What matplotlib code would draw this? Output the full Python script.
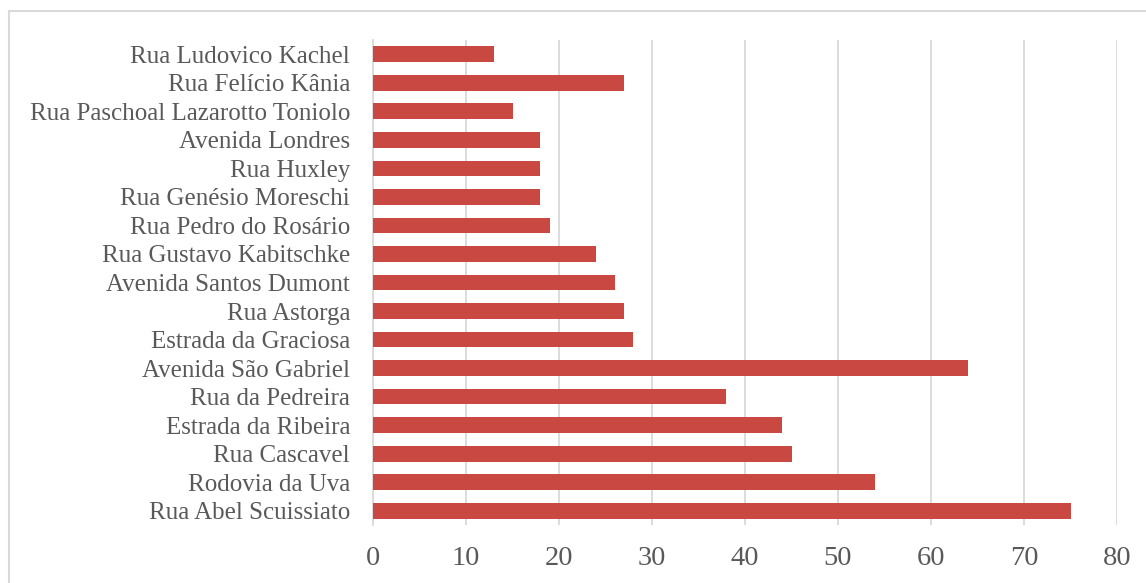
import matplotlib.pyplot as plt
from matplotlib.patches import Rectangle

# ruas, de cima para baixo
ruas = [
    "Rua Ludovico Kachel",
    "Rua Felício Kânia",
    "Rua Paschoal Lazarotto Toniolo",
    "Avenida Londres",
    "Rua Huxley",
    "Rua Genésio Moreschi",
    "Rua Pedro do Rosário",
    "Rua Gustavo Kabitschke",
    "Avenida Santos Dumont",
    "Rua Astorga",
    "Estrada da Graciosa",
    "Avenida São Gabriel",
    "Rua da Pedreira",
    "Estrada da Ribeira",
    "Rua Cascavel",
    "Rodovia da Uva",
    "Rua Abel Scuissiato",
]
valores = [13, 27, 15, 18, 18, 18, 19, 24, 26, 27, 28, 64, 38, 44, 45, 54, 75]
ticks_x = [0, 10, 20, 30, 40, 50, 60, 70, 80]

COR_BARRA = "#C94842"
COR_TEXTO = "#595959"
COR_GRADE = "#D9D9D9"

plt.rcParams["font.family"] = ["Liberation Serif", "DejaVu Serif"]

fig = plt.figure(figsize=(11.46, 5.83), dpi=100)
ax = fig.add_axes([373 / 1146, 1 - 525 / 583, (1117 - 373) / 1146, (525 - 40) / 583])

# moldura do gráfico
fig.patches.append(Rectangle((8.5 / 1146, -0.1), 1.2, 1 - 10.5 / 583 + 0.1,
                             transform=fig.transFigure, fill=False,
                             edgecolor=COR_GRADE, linewidth=1.5))

pos = list(range(len(ruas)))
ax.barh(pos, valores, height=0.55, color=COR_BARRA, zorder=3)

ax.set_yticks(pos)
ax.set_yticklabels(ruas)
ax.set_ylim(len(ruas) - 0.5, -0.5)
ax.set_xlim(0, 80)
ax.set_xticks(ticks_x)

ax.grid(axis="x", color=COR_GRADE, linewidth=1.3, zorder=0)
ax.tick_params(axis="y", length=0, pad=16.5, labelsize=18, labelcolor=COR_TEXTO)
ax.tick_params(axis="x", length=0, pad=15, labelsize=20.5, labelcolor=COR_TEXTO)

for lado in ["top", "right", "bottom"]:
    ax.spines[lado].set_visible(False)
ax.spines["left"].set_color(COR_GRADE)
ax.spines["left"].set_linewidth(1.3)

fig.savefig("out.png", dpi=100)
